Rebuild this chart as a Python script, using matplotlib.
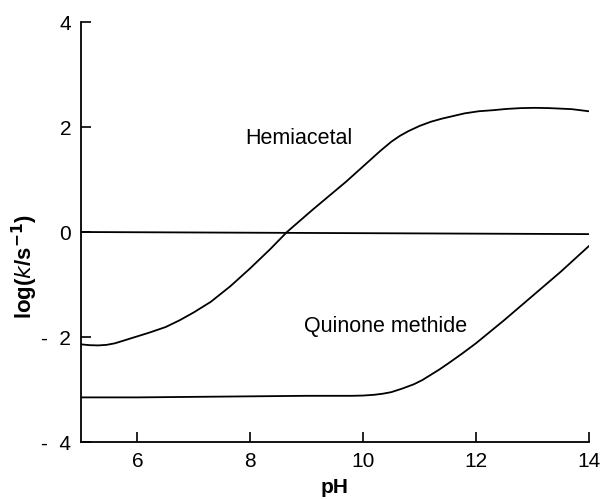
import numpy as np
import matplotlib.pyplot as plt

plt.rcParams['font.family'] = ['Liberation Sans', 'DejaVu Sans']

# data
ph_hemi = [5.0, 5.15, 5.3, 5.45, 5.6, 5.75, 5.9, 6.05, 6.2, 6.5, 6.75, 7.0, 7.3, 7.65,
           8.0, 8.35, 8.65, 9.1, 9.7, 10.0, 10.3, 10.5, 10.65, 10.8, 11.0, 11.2, 11.4,
           11.6, 11.8, 12.05, 12.3, 12.55, 12.8, 13.05, 13.3, 13.5, 13.7, 13.85, 14.0]
logk_hemi = [-2.14, -2.155, -2.16, -2.15, -2.12, -2.07, -2.02, -1.97, -1.92, -1.81, -1.68,
             -1.53, -1.33, -1.03, -0.69, -0.33, 0.0, 0.42, 0.96, 1.25, 1.54, 1.72, 1.83,
             1.92, 2.02, 2.10, 2.16, 2.21, 2.26, 2.30, 2.32, 2.345, 2.36, 2.365, 2.36,
             2.35, 2.34, 2.32, 2.30]

ph_qm = [5.0, 6.0, 7.0, 8.0, 9.0, 9.8, 10.0, 10.2, 10.35, 10.5, 10.7, 10.9, 11.05, 11.2,
         11.35, 11.5, 11.75, 12.0, 12.25, 12.5, 13.0, 13.5, 14.0]
logk_qm = [-3.15, -3.15, -3.14, -3.13, -3.12, -3.12, -3.115, -3.10, -3.08, -3.05, -2.98,
           -2.90, -2.82, -2.72, -2.62, -2.51, -2.32, -2.12, -1.90, -1.68, -1.22, -0.76, -0.27]

ph_ref = [5.0, 14.0]
logk_ref = [0.0, -0.04]

xticks = [6, 8, 10, 12, 14]
yticks = [-4, -2, 0, 2, 4]
ytick_labels = ['-  4', '-  2', '0', '2', '4']

fig = plt.figure(figsize=(6.02, 4.99), dpi=100)
ax = fig.add_axes([0.1346, 0.1142, 0.8434, 0.8417])

lw = 1.3
ax.plot(ph_hemi, logk_hemi, color='black', lw=lw)
ax.plot(ph_qm, logk_qm, color='black', lw=lw)
ax.plot(ph_ref, logk_ref, color='black', lw=lw)

ax.text(8.86, 1.78, 'Hemiacetal', fontsize=15.5, ha='center', va='center')
ax.text(10.39, -1.80, 'Quinone methide', fontsize=15.5, ha='center', va='center')

ax.set_xlim(5, 14)
ax.set_ylim(-4, 4)
ax.set_xticks(xticks)
ax.set_yticks(yticks)
ax.set_yticklabels(ytick_labels)
ax.tick_params(direction='in', length=7, width=1.2, labelsize=15, pad=7)

for s in ['top', 'right']:
    ax.spines[s].set_visible(False)
for s in ['left', 'bottom']:
    ax.spines[s].set_linewidth(1.3)

ax.set_xlabel('pH', fontsize=15, fontweight='bold', labelpad=5)
fig.text(25 / 602, 1 - 266 / 499, r'log($\mathbf{\mathit{k}}$/s$^{\mathbf{-1}}$)',
         fontsize=16, fontweight='bold', rotation=90, ha='center', va='center')

fig.savefig('out.png', dpi=100)
